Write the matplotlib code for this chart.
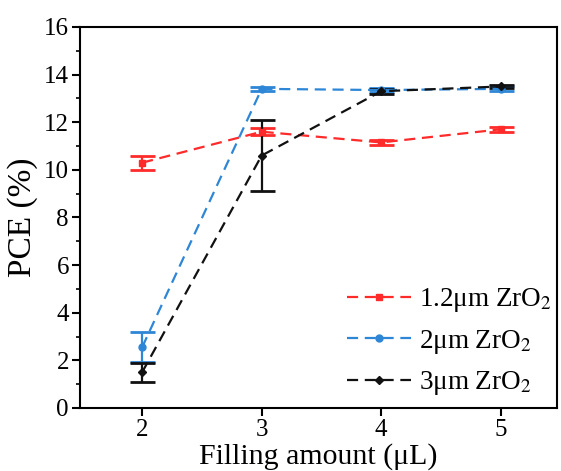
import matplotlib.pyplot as plt
from matplotlib.ticker import MultipleLocator

plt.rcParams['font.family'] = ['Liberation Serif', 'DejaVu Serif']
plt.rcParams['mathtext.fontset'] = 'stix'

x = [2, 3, 4, 5]
pce_12 = [10.3, 11.6, 11.15, 11.7]
err_12 = [0.3, 0.15, 0.12, 0.1]
pce_2 = [2.55, 13.4, 13.35, 13.4]
err_2 = [0.62, 0.08, 0.08, 0.1]
pce_3 = [1.5, 10.6, 13.3, 13.5]
err_3 = [0.4, 1.5, 0.1, 0.08]

labels = ['1.2\u03bcm ZrO$_2$', '2\u03bcm ZrO$_2$', '3\u03bcm ZrO$_2$']
colors = ['#ff2a2a', '#2e86d6', '#111111']
markers = ['s', 'o', 'D']

fig = plt.figure(figsize=(5.61, 4.71), dpi=100)
ax = fig.add_axes([0.1426, 0.1338, 0.850, 0.809])

handles = []
for y, e, c, m, lab in zip([pce_12, pce_2, pce_3], [err_12, err_2, err_3], colors, markers, labels):
    cont = ax.errorbar(x, y, yerr=e, color=c, ls='--', lw=1.6, marker=m, ms=5 if m != 'D' else 4,
                       capsize=9, capthick=2, elinewidth=1.6, dashes=(5, 3), label=lab)
    handles.append(cont.lines[0])

ax.set_xlim(1.48, 5.47)
ax.set_ylim(0, 16)
ax.set_xticks(x)
ax.yaxis.set_major_locator(MultipleLocator(2))
ax.yaxis.set_minor_locator(MultipleLocator(1))
ax.tick_params(axis='both', which='major', direction='out', length=6, width=1.5, labelsize=18, pad=2)
ax.tick_params(axis='y', which='minor', direction='out', length=3, width=1.2)
for s in ax.spines.values():
    s.set_linewidth(1.5)

ax.set_xlabel('Filling amount (\u03bcL)', fontsize=21.5)
ax.set_ylabel('PCE (%)', fontsize=24)
ax.xaxis.set_label_coords(0.5, -0.093)
ax.yaxis.set_label_coords(-0.088, 0.5)

leg = ax.legend(handles, labels, loc='lower right', frameon=False, fontsize=19.5, handlelength=2.35,
                borderaxespad=0.0, labelspacing=0.5, handletextpad=0.3,
                bbox_to_anchor=(1.012, 0.0))

fig.savefig('out.png', dpi=100)
